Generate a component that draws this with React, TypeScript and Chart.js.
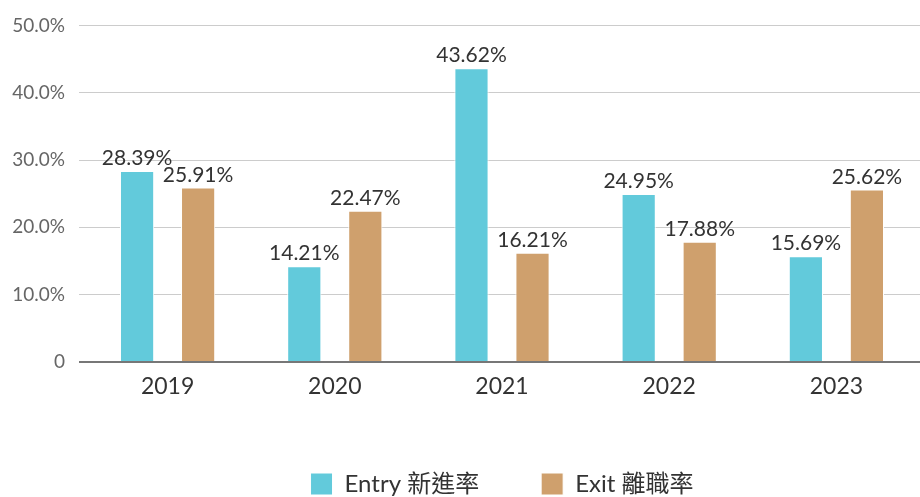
import React, { useEffect, useRef } from "react";
import { Chart, registerables } from "chart.js";

Chart.register(...registerables);

const years = ["2019", "2020", "2021", "2022", "2023"];
const entryRates = [28.39, 14.21, 43.62, 24.95, 15.69];
const exitRates = [25.91, 22.47, 16.21, 17.88, 25.62];
const seriesNames = ["Entry 新進率", "Exit 離職率"];
const yTicks = [0, 10, 20, 30, 40, 50];

const FONT = "Lato, 'Noto Sans CJK TC', sans-serif";

const valueLabels = {
  id: "valueLabels",
  afterDatasetsDraw(chart: any) {
    const ctx = chart.ctx;
    ctx.save();
    ctx.font = `21px ${FONT}`;
    ctx.fillStyle = "#333333";
    ctx.textAlign = "center";
    ctx.textBaseline = "alphabetic";
    chart.data.datasets.forEach((ds: any, i: number) => {
      const meta = chart.getDatasetMeta(i);
      meta.data.forEach((el: any, j: number) => {
        const v = ds.data[j] as number;
        ctx.fillText(v.toFixed(2) + "%", el.x, el.y - 6);
      });
    });
    ctx.restore();
  },
};

export default function App() {
  const ref = useRef<HTMLCanvasElement | null>(null);
  useEffect(() => {
    if (!ref.current) return;
    const chart = new Chart(ref.current, {
      type: "bar",
      data: {
        labels: years,
        datasets: [
          {
            label: seriesNames[0],
            data: entryRates,
            backgroundColor: "#62CADB",
            borderColor: "#ffffff",
            borderWidth: 1,
            categoryPercentage: 0.73,
            barPercentage: 0.56,
          },
          {
            label: seriesNames[1],
            data: exitRates,
            backgroundColor: "#CFA06D",
            borderColor: "#ffffff",
            borderWidth: 1,
            categoryPercentage: 0.73,
            barPercentage: 0.56,
          },
        ],
      },
      options: {
        animation: false,
        responsive: false,
        maintainAspectRatio: false,
        layout: { padding: { top: 25, right: 0, left: 0, bottom: -9 } },
        plugins: {
          tooltip: { enabled: false },
          legend: {
            position: "bottom",
            fullSize: false,
            labels: {
              boxWidth: 22,
              boxHeight: 22,
              padding: 62,
              color: "#333333",
              font: { family: FONT, size: 24 },
            },
          },
        },
        scales: {
          x: {
            grid: { display: false },
            border: { display: false },
            ticks: {
              color: "#333333",
              font: { family: FONT, size: 23 },
              padding: 3,
            },
            afterFit: (axis: any) => {
              axis.height = 48;
            },
          },
          y: {
            min: 0,
            max: 50,
            afterBuildTicks: (axis: any) => {
              axis.ticks = yTicks.map((v) => ({ value: v }));
            },
            grid: {
              color: (c: any) => (c.tick && c.tick.value === 0 ? "#777777" : "#cccccc"),
              lineWidth: (c: any) => (c.tick && c.tick.value === 0 ? 2 : 1),
              drawTicks: true,
              tickLength: 5,
            },
            border: { display: false },
            ticks: {
              color: "#666666",
              font: { family: FONT, size: 19 },
              padding: 14,
              callback: (v: any) => (Number(v) === 0 ? "0" : Number(v).toFixed(1) + "%"),
            },
            afterFit: (axis: any) => {
              axis.width = 84;
            },
          },
        },
      },
      plugins: [valueLabels],
    });
    return () => chart.destroy();
  }, []);
  return (
    <div style={{ position: "fixed", left: 0, top: 0, width: 920, height: 497 }}>
      <canvas ref={ref} width={920} height={497} style={{ display: "block" }} />
    </div>
  );
}
